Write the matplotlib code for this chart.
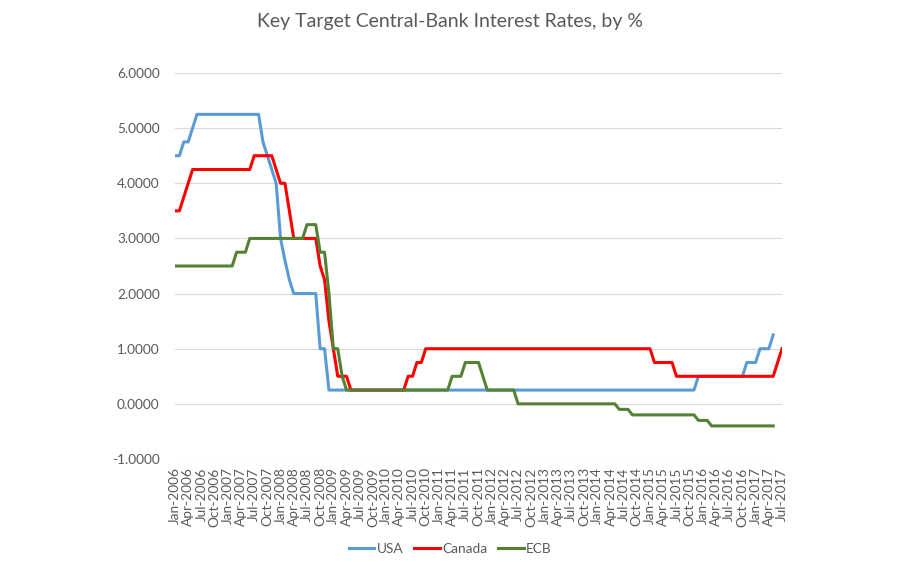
import numpy as np

import matplotlib
matplotlib.use('Agg')
import matplotlib.pyplot as plt
from matplotlib.ticker import FuncFormatter

plt.rcParams['font.family'] = ['Lato', 'DejaVu Sans']

# monthly rates, first value = Jan-2006
usa = [
    4.50, 4.50, 4.75, 4.75, 5.00, 5.25, 5.25, 5.25, 5.25, 5.25, 5.25, 5.25,  # 2006
    5.25, 5.25, 5.25, 5.25, 5.25, 5.25, 5.25, 5.25, 4.75, 4.50, 4.25, 4.00,  # 2007
    3.00, 2.60, 2.25, 2.00, 2.00, 2.00, 2.00, 2.00, 2.00, 1.00, 1.00, 0.25,  # 2008
    0.25, 0.25, 0.25, 0.25, 0.25, 0.25, 0.25, 0.25, 0.25, 0.25, 0.25, 0.25,  # 2009
    0.25, 0.25, 0.25, 0.25, 0.25, 0.25, 0.25, 0.25, 0.25, 0.25, 0.25, 0.25,  # 2010
    0.25, 0.25, 0.25, 0.25, 0.25, 0.25, 0.25, 0.25, 0.25, 0.25, 0.25, 0.25,  # 2011
    0.25, 0.25, 0.25, 0.25, 0.25, 0.25, 0.25, 0.25, 0.25, 0.25, 0.25, 0.25,  # 2012
    0.25, 0.25, 0.25, 0.25, 0.25, 0.25, 0.25, 0.25, 0.25, 0.25, 0.25, 0.25,  # 2013
    0.25, 0.25, 0.25, 0.25, 0.25, 0.25, 0.25, 0.25, 0.25, 0.25, 0.25, 0.25,  # 2014
    0.25, 0.25, 0.25, 0.25, 0.25, 0.25, 0.25, 0.25, 0.25, 0.25, 0.25, 0.50,  # 2015
    0.50, 0.50, 0.50, 0.50, 0.50, 0.50, 0.50, 0.50, 0.50, 0.50, 0.75, 0.75,  # 2016
    0.75, 1.00, 1.00, 1.00, 1.25,                                            # 2017
]

canada = [
    3.50, 3.50, 3.75, 4.00, 4.25, 4.25, 4.25, 4.25, 4.25, 4.25, 4.25, 4.25,
    4.25, 4.25, 4.25, 4.25, 4.25, 4.25, 4.50, 4.50, 4.50, 4.50, 4.50, 4.25,
    4.00, 4.00, 3.50, 3.00, 3.00, 3.00, 3.00, 3.00, 3.00, 2.50, 2.25, 1.50,
    1.00, 0.50, 0.50, 0.50, 0.25, 0.25, 0.25, 0.25, 0.25, 0.25, 0.25, 0.25,
    0.25, 0.25, 0.25, 0.25, 0.25, 0.50, 0.50, 0.75, 0.75, 1.00, 1.00, 1.00,
    1.00, 1.00, 1.00, 1.00, 1.00, 1.00, 1.00, 1.00, 1.00, 1.00, 1.00, 1.00,
    1.00, 1.00, 1.00, 1.00, 1.00, 1.00, 1.00, 1.00, 1.00, 1.00, 1.00, 1.00,
    1.00, 1.00, 1.00, 1.00, 1.00, 1.00, 1.00, 1.00, 1.00, 1.00, 1.00, 1.00,
    1.00, 1.00, 1.00, 1.00, 1.00, 1.00, 1.00, 1.00, 1.00, 1.00, 1.00, 1.00,
    1.00, 0.75, 0.75, 0.75, 0.75, 0.75, 0.50, 0.50, 0.50, 0.50, 0.50, 0.50,
    0.50, 0.50, 0.50, 0.50, 0.50, 0.50, 0.50, 0.50, 0.50, 0.50, 0.50, 0.50,
    0.50, 0.50, 0.50, 0.50, 0.50, 0.75, 1.00,
]

ecb = [
    2.50, 2.50, 2.50, 2.50, 2.50, 2.50, 2.50, 2.50, 2.50, 2.50, 2.50, 2.50,
    2.50, 2.50, 2.75, 2.75, 2.75, 3.00, 3.00, 3.00, 3.00, 3.00, 3.00, 3.00,
    3.00, 3.00, 3.00, 3.00, 3.00, 3.00, 3.25, 3.25, 3.25, 2.75, 2.75, 2.00,
    1.00, 1.00, 0.50, 0.25, 0.25, 0.25, 0.25, 0.25, 0.25, 0.25, 0.25, 0.25,
    0.25, 0.25, 0.25, 0.25, 0.25, 0.25, 0.25, 0.25, 0.25, 0.25, 0.25, 0.25,
    0.25, 0.25, 0.25, 0.50, 0.50, 0.50, 0.75, 0.75, 0.75, 0.75, 0.50, 0.25,
    0.25, 0.25, 0.25, 0.25, 0.25, 0.25, 0.00, 0.00, 0.00, 0.00, 0.00, 0.00,
    0.00, 0.00, 0.00, 0.00, 0.00, 0.00, 0.00, 0.00, 0.00, 0.00, 0.00, 0.00,
    0.00, 0.00, 0.00, 0.00, 0.00, -0.10, -0.10, -0.10, -0.20, -0.20, -0.20, -0.20,
    -0.20, -0.20, -0.20, -0.20, -0.20, -0.20, -0.20, -0.20, -0.20, -0.20, -0.20, -0.30,
    -0.30, -0.30, -0.40, -0.40, -0.40, -0.40, -0.40, -0.40, -0.40, -0.40, -0.40, -0.40,
    -0.40, -0.40, -0.40, -0.40, -0.40,
]

tick_months = ['Jan', 'Apr', 'Jul', 'Oct']
tick_years = list(range(2006, 2018))
tick_labels = [f"{mo}-{yr}" for yr in tick_years for mo in tick_months][:47]

gray = '#595959'

fig = plt.figure(figsize=(9, 5.8), dpi=100)
ax = fig.add_axes([175 / 900, 121 / 580, 607 / 900, 386 / 580])

ax.plot(np.arange(len(usa)), usa, color='#5b9bd5', lw=2.2, label='USA')
ax.plot(np.arange(len(canada)), canada, color='#ff0000', lw=2.2, label='Canada')
ax.plot(np.arange(len(ecb)), ecb, color='#548235', lw=2.2, label='ECB')

ax.set_xlim(0, 138)
ax.set_ylim(-1, 6)
ax.set_yticks(np.arange(-1, 7, 1))
ax.yaxis.set_major_formatter(FuncFormatter(lambda v, p: f"{v:.4f}"))
ax.set_xticks(np.arange(0, 139, 3))
ax.set_xticklabels(tick_labels, rotation=90)

ax.grid(axis='y', color='#d9d9d9', lw=0.8)
ax.set_axisbelow(True)
for s in ax.spines.values():
    s.set_visible(False)
ax.tick_params(axis='y', length=0, pad=11, labelsize=9.8, labelcolor=gray)
ax.tick_params(axis='x', length=0, pad=6, labelsize=9.8, labelcolor=gray)

fig.suptitle("Key Target Central-Bank Interest Rates, by %", x=0.5, y=1 - 22 / 580,
             va='center', fontsize=14, color=gray)

fig.legend(loc='center', bbox_to_anchor=(0.5, 31 / 580), ncol=3, frameon=False,
           fontsize=9.8, labelcolor=gray, handlelength=1.9, handletextpad=0.15,
           columnspacing=0.8)

fig.savefig("out.png", dpi=100)
